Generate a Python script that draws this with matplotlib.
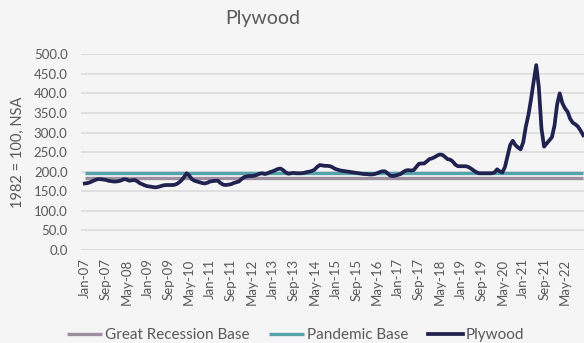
import numpy as np
import pandas as pd
import matplotlib
matplotlib.use("Agg")
import matplotlib.pyplot as plt

# monthly plywood PPI, Jan-07 .. Dec-22
plywood = [
    170, 171, 173, 176, 179, 181, 181, 180, 179, 177, 176, 175,   # 2007
    175, 176, 178, 181, 180, 177, 178, 179, 176, 171, 168, 165,   # 2008
    163, 162, 161, 160, 161, 163, 165, 166, 166, 166, 166, 168,   # 2009
    172, 178, 186, 196, 190, 181, 177, 175, 173, 171, 170, 172,   # 2010
    175, 176, 177, 177, 171, 167, 166, 167, 168, 171, 173, 175,   # 2011
    181, 186, 188, 189, 189, 190, 192, 195, 196, 194, 196, 199,   # 2012
    201, 204, 207, 208, 204, 198, 195, 196, 197, 196, 196, 196,   # 2013
    197, 199, 200, 202, 205, 212, 217, 216, 215, 215, 214, 211,   # 2014
    207, 205, 203, 202, 201, 200, 199, 198, 197, 196, 195, 194,   # 2015
    194, 193, 193, 194, 196, 199, 201, 201, 196, 190, 189, 190,   # 2016
    192, 194, 199, 203, 204, 203, 204, 212, 220, 221, 221, 226,   # 2017
    232, 234, 237, 241, 244, 243, 238, 232, 231, 226, 218, 214,   # 2018
    214, 214, 214, 212, 208, 203, 199, 196, 196, 196, 196, 196,   # 2019
    196, 198, 206, 201, 198, 212, 240, 268, 279, 268, 262, 257,   # 2020
    275, 315, 345, 385, 430, 472, 415, 310, 264, 272, 280, 288,   # 2021
    318, 372, 400, 375, 362, 353, 335, 325, 321, 315, 305, 293,   # 2022
]
great_recession_base = 182.9
pandemic_base = 197.2

months = pd.date_range("2007-01-01", periods=len(plywood), freq="MS")
month_labels = [d.strftime("%b-%y") for d in months]

bg = "#f5f5f5"
txt = "#595959"

fig = plt.figure(figsize=(5.84, 3.43), dpi=100, facecolor=bg)
ax = fig.add_axes([0.1395, 0.271, 0.8605, 0.571], facecolor=bg)

x = np.arange(len(plywood))
ax.plot(x, [great_recession_base] * len(x), color="#9d8f9f", lw=2.4,
        label="Great Recession Base", solid_capstyle="butt")
ax.plot(x, [pandemic_base] * len(x), color="#55a2aa", lw=2.4,
        label="Pandemic Base", solid_capstyle="butt")
ax.plot(x, plywood, color="#20224f", lw=2.7, label="Plywood",
        solid_joinstyle="round")

ax.set_ylim(0, 500)
ax.set_yticks(np.arange(0, 501, 50))
ax.set_yticklabels([f"{v:.1f}" for v in np.arange(0, 501, 50)])
ax.set_xlim(-1.3, 191.3)
tick_pos = x[::8]
ax.set_xticks(tick_pos)
ax.set_xticklabels([month_labels[i] for i in tick_pos], rotation=90)

ax.grid(axis="y", color="#d9d9d9", lw=1.1)
ax.set_axisbelow(True)
for s in ax.spines.values():
    s.set_visible(False)
ax.tick_params(length=0, colors=txt, labelsize=9.5)
ax.tick_params(axis="y", pad=10)
ax.tick_params(axis="x", pad=6)
for lab in ax.get_xticklabels() + ax.get_yticklabels():
    lab.set_fontfamily("Lato")

ax.set_ylabel("1982 = 100, NSA", color=txt, fontsize=10.5, family="Lato", labelpad=6)
fig.text(0.45, 0.945, "Plywood", ha="center", va="center", fontsize=14,
         color=txt, family="Lato")

fig.legend(loc="center", bbox_to_anchor=(0.506, 0.023), ncol=3, frameon=False,
           prop={"family": "Lato", "size": 11}, labelcolor=txt,
           handlelength=2.3, handletextpad=0.15, columnspacing=1.3)

fig.savefig("out.png", dpi=100, facecolor=bg)
